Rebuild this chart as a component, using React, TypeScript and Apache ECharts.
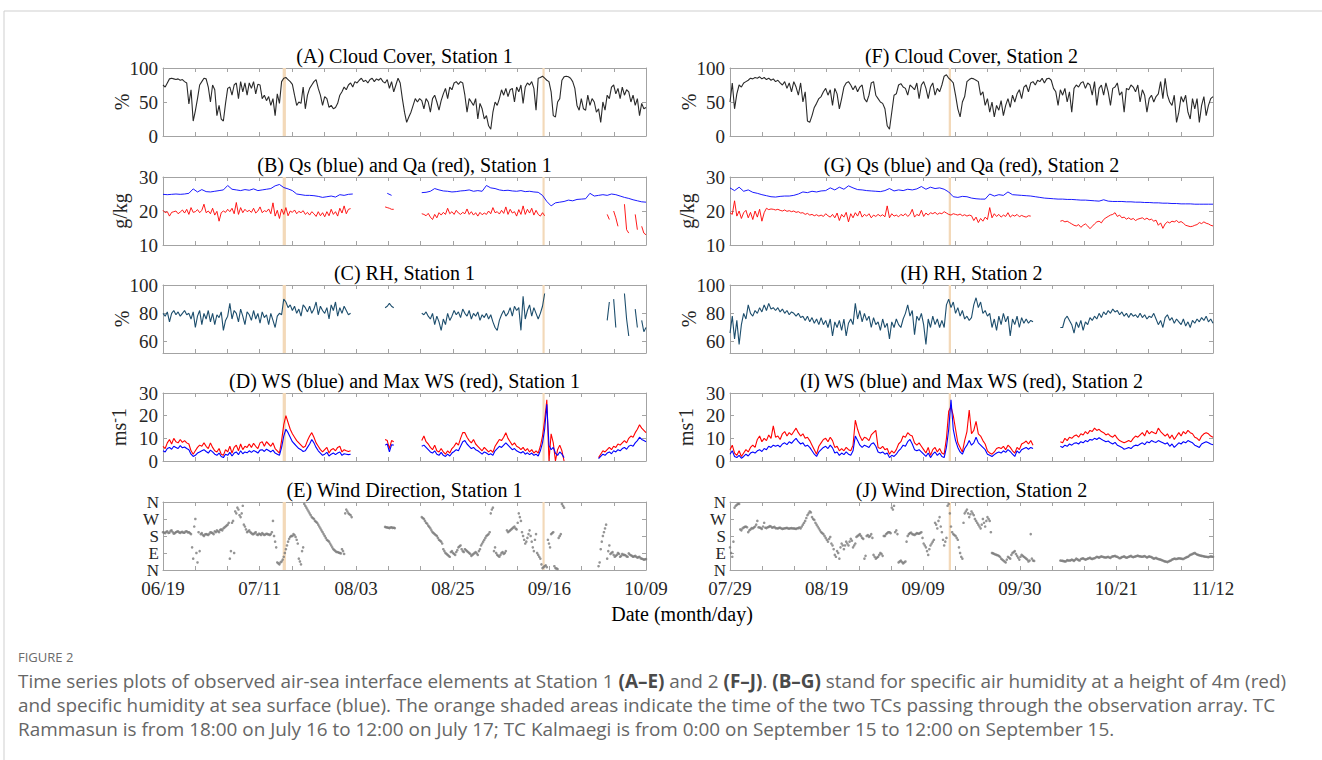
import React, { useEffect, useRef } from 'react';
import * as echarts from 'echarts';

const N = null;

// ---------- tick labels ----------
const LAB1 = ['06/19', '07/11', '08/03', '08/25', '09/16', '10/09'];
const LAB2 = ['07/29', '08/19', '09/09', '09/30', '10/21', '11/12'];
const SPAN1 = 112; // days 06/19 -> 10/09
const SPAN2 = 106; // days 07/29 -> 11/12
const DIR_LABELS = ['N', 'E', 'S', 'W', 'N'];

// TC passages (day offsets from first date)
const TC1 = [[27.75, 28.5], [88.0, 88.5]];
const TC2 = [[48.0, 48.5]];

// ---------- Station 1 (half-day steps unless noted) ----------
const cloud1 = [
  75,72,78,84,85,84,83,84,82,83, 80,78,47,68,22,37,55,75,80,85,
  84,72,50,75,68,30,45,25,22,48, 70,72,60,75,78,55,80,65,78,60,
  78,70,80,62,76,75,55,60,52,58, 45,55,30,62,48,80,85,86,83,80,
  76,60,45,50,48,72,40,60,70,75, 80,83,70,60,45,58,55,42,45,40,
  42,48,60,65,72,68,75,78,72,80, 78,82,85,80,82,78,83,85,80,84,
  82,85,80,78,83,70,80,65,75,85, 78,55,35,20,28,35,45,55,50,55,
  52,40,55,50,35,55,60,50,38,52, 62,70,55,72,68,78,80,76,80,78,
  60,35,55,50,45,55,25,48,40,25, 30,15,10,35,50,45,55,68,60,70,
  58,68,70,50,72,65,75,48,72,78, 75,80,70,38,85,86,88,85,82,80,
  65,30,28,50,55,82,87,88,87,85, 80,70,45,38,55,40,38,60,45,55,
  50,35,40,20,50,38,60,55,72,75, 62,70,55,72,60,68,65,50,60,45,
  55,30,48,40,42,
];
// daily step
const qs1 = [
  24.9,24.8,24.9,25.0,24.9,25.0,25.2,26.5,25.6,26.3,
  25.7,25.6,25.8,26.0,26.2,27.5,26.4,26.2,26.0,26.3,
  26.1,26.5,26.0,26.2,26.4,26.6,27.4,27.8,26.9,26.5,
  26.0,25.0,24.8,24.6,24.6,24.5,24.3,24.0,24.2,24.4,
  24.1,24.8,24.6,24.9,25.0,
  N,N,N,N,N,N,N, 25.2,24.6, N,N,N,N,N,N,
  25.4,25.5,25.8,26.6,26.2,25.9,25.8,25.6,25.7,25.9,
  26.0,26.2,25.8,26.0,25.8,27.5,26.8,26.6,26.2,26.0,
  26.1,25.9,25.8,26.0,25.7,25.8,25.6,25.5,24.6,22.8,
  21.5,22.4,22.6,22.8,23.2,23.0,23.4,23.5,23.6,25.2,
  24.4,24.6,24.8,24.6,25.0,24.8,24.4,24.0,23.7,23.3,
  23.0,22.7,22.6,
];
const qa1 = [
  20.2,19.5,19.8,18.5,19.6,19.8,20.0,19.2,19.7,20.3, 19.4,20.5,19.0,21.0,19.6,19.8,20.4,19.5,20.2,22.0,
  19.5,20.0,19.2,20.8,18.8,19.9,17.0,19.5,20.0,19.6, 20.5,19.8,20.8,19.2,22.5,19.0,21.0,19.5,20.5,19.8,
  20.2,19.6,20.8,19.4,20.0,21.2,19.5,20.1,19.8,20.6, 19.2,22.4,18.5,20.2,17.8,20.6,19.0,21.0,18.6,20.0,
  19.6,20.3,19.2,19.9,19.5,20.1,19.0,19.6,18.8,19.8, 19.2,18.4,19.8,18.6,19.5,18.3,19.8,18.6,20.5,19.0,
  19.8,18.5,20.8,19.4,21.5,19.2,20.5,20.7,
  N,N,N,N,N,N,N,N,N,N,N,N,N,N,N,
  21.2,21.0,20.8,20.5,20.5,
  N,N,N,N,N,N,N,N,N,N,N,N,
  19.2,19.0,18.6,19.3,18.2,17.5,19.0,18.0,19.5,18.8, 19.6,19.0,20.8,19.2,19.8,19.0,20.2,19.4,19.0,19.6,
  19.2,20.6,19.0,19.8,18.8,19.5,18.5,19.6,18.9,19.4, 19.0,20.0,19.2,21.0,19.5,19.8,19.1,20.2,19.3,21.2,
  19.0,20.5,19.4,19.8,18.5,20.4,19.0,21.5,19.0,20.5, 19.4,20.8,18.8,20.2,19.0,18.5,19.5,18.6,
  N,N,N,N,N,N,N,N,N,N,N,N,N,N,N,N,N,N,N,N,N,N,N,N,N,N,N,N,
  19.0,17.5,N,20.0,18.0,15.5,N,N,22.0,14.5,13.5,N,N,19.0,14.5,N,15.5,13.5,13.0,
];
const rh1 = [
  80,78,81,74,80,82,79,81,78,80, 82,79,80,76,81,70,78,82,72,80,
  76,82,74,80,72,79,77,81,68,75, 78,87,76,82,80,74,83,78,72,81,
  79,75,82,76,80,73,81,77,79,72, 80,75,70,78,80,79,90,88,84,86,
  82,85,80,83,78,86,84,81,85,80, 83,88,79,85,82,80,84,76,86,82,
  88,78,84,80,85,82,79,80,
  N,N,N,N,N,N,N,N,N,N,N,N,N,N,N,
  84,85,87,85,84,
  N,N,N,N,N,N,N,N,N,N,N,N,
  80,79,81,78,76,80,72,78,74,68, 76,72,80,75,78,82,79,81,77,83,
  80,78,82,76,80,78,81,75,79,77, 80,76,79,74,70,68,75,79,82,78,
  80,84,78,85,82,84,68,92,76,82, 86,78,84,80,76,80,85,94,
  N,N,N,N,N,N,N,N,N,N,N,N,N,N,N,N,N,N,N,N,N,N,N,N,N,N,N,N,
  75,88,N,90,70,N,N,N,94,76,64,N,N,83,70,N,75,67,70,
];
const ws1 = [
  4.5,4.0,5.5,6.0,5.2,6.5,6.0,5.5,6.8,5.8, 6.2,5.5,5.0,3.0,2.0,2.5,3.5,4.0,4.5,5.0,
  4.2,3.5,4.8,4.0,3.0,2.5,3.5,2.0,1.5,3.0, 2.5,3.8,2.2,3.5,4.0,2.8,4.5,3.2,4.0,3.6,
  4.5,3.8,4.6,4.2,3.5,4.8,5.0,4.2,5.2,4.6, 4.0,4.8,3.5,3.0,2.5,6.0,11.0,14.0,12.5,10.5,
  8.5,7.5,6.5,5.5,5.0,4.2,4.5,6.0,7.5,9.5, 8.0,6.0,4.5,3.5,2.5,3.0,3.8,2.2,3.0,3.5,
  2.8,3.5,4.0,2.5,3.2,3.0,2.8,3.0,
  N,N,N,N,N,N,N,N,N,N,N,N,N,N,N,
  7.0,7.5,4.0,7.2,7.0,
  N,N,N,N,N,N,N,N,N,N,N,N,
  6.5,7.0,6.0,5.0,4.0,3.5,4.5,3.0,2.5,3.8, 2.5,2.0,3.0,2.2,3.5,4.2,5.0,4.5,6.5,8.5,
  9.0,7.5,6.5,5.5,6.0,5.0,4.5,3.8,3.0,4.0, 3.5,2.8,3.2,2.5,4.5,5.5,6.5,6.0,7.0,8.0,
  7.0,6.0,5.0,5.5,4.5,4.0,3.5,4.2,3.0,3.6, 2.8,3.5,2.5,3.0,2.2,4.5,8.0,14.0,25.0,7.0,
  5.0,6.0,3.5,2.5,4.0,3.0,1.5,
  N,N,N,N,N,N,N,N,N,N,N,N,N,N,N,
  1.0,2.0,3.0,2.5,3.5,4.0,3.2,4.5,
  4.0,5.0,4.5,5.5,6.0,5.2,6.5,7.0,6.5,8.0, 9.0,10.5,9.5,9.0,8.5,
];
const maxws1 = [
  6.5,5.5,8.0,9.5,7.5,10.0,8.5,8.0,9.5,8.2, 9.0,8.0,7.5,4.5,3.0,4.5,6.0,7.0,6.5,8.0,
  6.5,5.5,8.0,6.0,4.5,4.0,5.5,3.0,2.5,5.0, 4.0,6.5,3.5,6.0,7.0,4.5,7.5,5.0,6.5,6.0,
  7.5,6.0,7.8,6.5,5.5,8.0,8.5,6.5,8.5,7.5, 6.5,8.0,5.5,4.5,3.5,9.0,16.0,20.0,17.0,14.0,
  12.0,10.5,9.0,8.0,7.0,6.0,6.5,9.0,11.0,12.5, 10.5,8.0,6.5,5.0,4.0,5.0,6.0,3.5,5.0,5.5,
  4.5,6.0,6.5,4.0,5.0,4.5,4.2,4.5,
  N,N,N,N,N,N,N,N,N,N,N,N,N,N,N,
  9.5,9.0,5.5,9.0,8.5,
  N,N,N,N,N,N,N,N,N,N,N,N,
  9.0,11.0,8.5,7.5,6.0,5.0,7.0,4.5,4.0,5.5, 4.0,3.0,4.5,3.5,5.5,6.5,8.0,7.0,10.0,12.5,
  12.5,10.5,9.0,8.0,9.5,7.5,6.5,5.5,4.5,6.0, 5.0,4.0,4.8,3.8,6.5,8.0,9.5,9.0,10.5,12.5,
  10.0,8.5,7.0,8.0,6.5,6.0,5.0,6.0,4.5,5.5, 4.0,5.0,3.5,4.5,3.5,6.5,11.0,18.0,27.0,0.0,
  12.0,8.0,0.0,5.0,7.0,4.5,0.0,
  N,N,N,N,N,N,N,N,N,N,N,N,N,N,N,
  1.5,3.0,4.5,4.0,5.0,6.0,5.0,6.5,
  6.0,7.5,7.0,8.0,9.0,8.0,10.0,11.0,10.5,12.5, 14.0,16.0,14.5,13.5,12.5,
];
// wind direction, degrees (two interleaved samplings, offset by a quarter day)
const wd1 = [
  200,195,205,198,210,192,200,205,196,202, 198,205,200,190,60,270,40,100,195,180,
  190,185,200,195,205,210,200,215,220,230, 240,60,250,90,300,320,280,340,230,200,
  210,195,190,200,185,190,195,185,192,188, 190,260,150,40,30,45,70,110,150,175,
  180,185,160,60,30,120,340,320,300,280, 270,255,240,220,200,180,160,150,130,110,
  100,95,90,110,85,320,300,290,
  N,N,N,N,N,N,N,N,N,N,N,N,N,N,N,
  228,225,222,226,224,
  N,N,N,N,N,N,N,N,N,N,N,N,
  280,270,250,235,220,200,190,180,160,150, 110,90,80,70,100,85,95,120,130,100,
  110,100,90,75,85,95,80,110,140,160, 180,190,300,330,120,80,70,90,85,100,
  200,210,220,230,215,300,260,180,140,170, 210,150,100,190,80,60,10,20,15,140,
  190,200,10,5,180,350,330,
  N,N,N,N,N,N,N,N,N,N,N,N,N,N,N,
  20,110,180,220,60,130,90,80,
  75,90,70,85,80,72,88,78,70,75, 65,70,60,55,58,
];
const wd1b = [
  198,202,196,207,200,195,203,199,201,197, 204,199,195,120,230,90,200,190,185,188,
  188,192,198,190,200,205,212,210,225,235, 250,100,260,310,330,290,300,240,215,205,
  200,190,195,188,192,185,190,188,190,185, 200,180,120,35,40,55,90,130,165,180,
  190,175,140,45,100,350,330,310,290,275, 260,250,230,210,190,170,155,140,120,105,
  95,92,88,100,300,310,295,280,
  N,N,N,N,N,N,N,N,N,N,N,N,N,N,N,
  226,224,225,223,222,
  N,N,N,N,N,N,N,N,N,N,N,N,
  275,260,245,228,210,195,185,170,155,140, 100,85,75,95,90,80,105,125,110,95,
  105,95,85,80,90,88,100,130,150,170, 185,200,320,100,90,75,80,95,90,210,
  205,215,225,220,250,280,200,160,150,190, 180,120,160,90,70,30,15,25,160,120,
  195,20,8,170,190,340,N,
  N,N,N,N,N,N,N,N,N,N,N,N,N,N,N,
  40,150,200,240,100,85,95,70,
  80,85,75,80,78,70,82,75,72,70, 68,62,58,56,55,
];

// ---------- Station 2 ----------
const cloud2 = [
  50,78,40,62,75,72,78,80,82,85, 84,86,85,87,84,86,83,85,82,84,
  80,82,78,75,80,70,78,65,80,72, 60,78,50,65,22,20,30,42,48,55,
  58,65,70,60,68,45,70,62,40,55, 72,78,80,75,68,74,65,72,75,55,
  50,60,78,80,60,55,50,48,40,15, 10,35,60,62,75,77,72,70,60,75,
  72,68,78,55,75,80,70,55,72,78, 60,70,65,75,88,90,85,82,78,60,
  40,28,50,58,80,83,85,84,82,80, 60,65,45,55,35,50,28,45,38,52,
  30,45,55,42,60,50,62,68,55,72, 75,65,78,80,75,82,80,85,78,84,
  85,82,70,65,45,68,60,70,50,65, 35,70,75,72,78,80,70,78,75,60,
  80,45,70,75,60,78,65,45,70,72, 78,60,65,35,70,68,75,72,65,75,
  50,68,60,35,55,60,50,58,62,80, 55,85,60,50,45,60,20,35,58,50,
  60,35,25,55,40,55,20,45,58,30, 45,55,58,
];
// daily step
const qs2 = [
  26.8,26.0,27.0,25.8,26.2,25.5,25.2,24.8,24.5,24.2,
  24.1,24.3,24.4,24.4,24.6,25.0,25.6,25.4,25.8,25.6,
  25.9,26.0,26.8,26.2,27.0,26.4,27.4,26.8,26.3,26.2,
  26.0,25.9,25.8,25.7,26.0,26.6,25.9,26.2,26.0,26.4,
  26.2,26.5,27.2,26.4,27.0,26.6,26.8,26.4,25.6,24.2,
  24.0,24.3,24.2,23.8,23.6,23.5,23.5,25.0,24.4,24.8,
  24.6,25.6,24.8,24.7,24.6,24.5,24.4,24.2,24.0,23.8,
  23.7,23.6,23.5,23.5,23.4,23.4,23.3,23.2,23.2,23.1,
  23.0,22.9,23.3,22.9,22.8,22.8,22.8,22.7,22.7,22.6,
  22.6,22.5,22.5,22.4,22.4,22.3,22.3,22.2,22.2,22.1,
  22.1,22.1,22.0,22.0,22.0,22.0,22.0,
];
const qa2 = [
  19.5,19.0,23.0,18.5,20.0,17.8,19.5,20.2,18.0,19.6, 17.5,20.0,18.2,20.5,17.0,19.5,20.8,20.4,20.6,20.5,
  20.3,20.5,20.2,20.0,20.3,19.9,20.1,19.8,20.0,19.6, 19.8,19.4,19.5,19.0,19.3,18.8,19.0,18.6,18.9,18.5,
  18.8,18.4,19.2,18.6,18.2,19.0,18.0,19.4,17.2,19.0, 18.2,19.6,16.8,19.2,18.0,19.5,18.5,20.0,18.2,19.0,
  18.5,19.2,18.0,18.8,18.4,19.0,18.5,18.9,18.3,21.5, 18.0,19.2,18.5,18.8,18.3,19.0,18.6,19.2,18.4,19.0,
  20.5,18.2,19.0,18.6,20.2,18.4,19.4,18.8,19.5,19.2, 19.6,19.0,19.4,19.2,19.8,19.4,19.0,18.8,19.2,19.0,
  18.8,19.1,18.6,18.9,18.5,18.8,18.6,17.2,18.2,16.6, 17.8,17.0,18.2,17.5,21.0,18.0,19.2,18.4,19.0,18.2,
  18.8,18.4,19.5,18.2,18.8,18.5,19.0,18.3,18.7,18.4, 18.2,18.6,18.5,
  N,N,N,N,N,N,N,N,N,N,N,N,
  17.0,17.2,16.8,17.0,16.6,
  16.2,15.8,15.6,16.0,15.2,15.8,16.2,15.6,14.8,15.5, 16.2,16.8,17.0,16.5,17.5,18.0,18.4,18.8,19.0,19.5,
  18.4,18.8,18.0,18.2,17.6,18.0,17.5,17.8,17.2,17.6, 17.8,18.0,17.5,17.9,17.4,17.6,17.0,17.3,15.8,16.5,
  14.9,16.2,16.8,16.5,17.0,16.8,17.2,16.6,16.9,16.4, 15.8,15.6,15.4,15.5,15.8,16.0,16.6,16.3,16.8,16.4,
  16.2,15.8,15.6,
];
const rh2 = [
  66,78,62,75,58,72,80,76,86,80, 78,82,80,84,81,86,82,87,83,84,
  82,84,81,83,80,82,79,81,80,78, 80,77,78,75,78,74,77,73,76,72,
  77,72,75,70,76,64,74,70,75,68, 76,64,73,76,72,87,76,82,74,80,
  75,78,70,77,72,74,68,76,70,73, 62,74,70,76,72,70,76,80,86,78,
  82,65,78,75,80,72,58,76,70,78, 72,76,70,75,70,86,90,84,88,80,
  84,78,82,76,78,75,77,86,91,84, 88,80,82,78,80,70,76,68,78,72,
  80,74,78,64,76,72,78,70,77,73, 76,73,75,74,
  N,N,N,N,N,N,N,N,N,N,N,
  70,70,76,78,75,
  72,66,74,70,75,68,74,72,77,75, 78,76,80,77,81,79,82,80,83,81,
  82,79,81,78,80,77,80,78,79,77, 80,77,79,76,78,77,80,76,72,75,
  70,77,79,75,77,73,76,74,72,76, 71,74,70,75,73,76,74,77,75,78,
  74,76,73,
];
const ws2 = [
  3.0,4.5,2.0,1.5,2.5,1.2,2.0,3.0,2.2,3.5, 4.0,3.5,4.5,5.0,4.2,5.5,5.0,6.5,6.0,7.0,
  6.5,7.0,6.2,7.5,8.0,7.2,8.5,7.8,9.0,10.0, 8.5,7.5,8.0,6.5,7.0,6.0,4.5,3.0,2.0,4.0,
  5.0,6.0,6.5,5.5,7.0,5.8,3.5,4.0,2.5,3.5, 2.8,4.0,3.0,2.5,4.5,11.0,9.0,7.0,6.0,7.0,
  6.5,6.0,7.5,8.0,6.5,4.0,3.5,4.0,3.0,3.5, 1.5,2.5,2.0,3.0,4.5,5.5,7.0,6.5,8.5,9.5,
  7.5,5.0,4.5,5.0,4.0,3.0,2.0,3.5,1.5,3.0, 4.0,2.5,3.5,2.0,1.5,6.0,14.0,27.0,14.0,9.0,
  6.0,4.0,3.0,5.5,7.0,9.0,7.0,8.0,10.5,8.0, 7.0,6.0,5.0,3.0,2.5,2.0,2.8,3.5,4.0,3.5,
  4.5,3.8,5.0,4.2,3.0,2.0,4.5,3.5,5.0,5.5, 6.0,5.2,6.0,5.5,
  N,N,N,N,N,N,N,N,N,N,N,
  6.5,6.0,7.0,6.5,7.5,
  7.0,7.8,8.0,7.5,8.5,8.0,9.0,8.5,9.5,9.2, 10.0,9.5,10.3,9.6,9.0,8.5,8.8,8.0,7.5,8.2,
  7.0,6.5,6.0,5.2,5.5,6.0,5.5,6.5,7.0,6.8, 7.5,8.0,7.2,8.5,8.0,9.0,8.5,8.2,9.0,8.5,
  8.0,7.5,8.0,6.5,7.5,6.0,7.0,8.0,7.5,8.5, 8.0,9.0,8.5,8.0,7.0,6.5,6.0,7.5,8.0,8.5,
  8.0,7.5,7.2,
];
const maxws2 = [
  5.0,7.0,3.5,2.5,4.5,2.0,3.5,5.0,4.0,6.0, 7.0,6.0,9.5,11.0,8.5,10.0,9.0,11.5,10.0,15.5,
  10.5,11.0,9.5,12.0,13.0,11.0,12.5,11.5,13.0,14.5, 12.5,11.0,12.0,10.0,10.5,9.0,7.0,5.0,3.0,6.5,
  8.0,9.5,10.0,8.5,10.5,9.0,6.0,6.5,4.5,5.5, 4.5,6.0,5.0,4.5,7.0,18.0,14.0,11.0,9.0,10.5,
  10.0,9.0,11.5,12.5,13.5,6.0,5.5,6.5,5.0,5.5, 3.0,4.5,3.5,5.0,7.5,8.5,11.0,10.5,12.5,11.5,
  11.0,8.0,7.0,8.0,6.5,5.0,3.5,6.0,2.5,5.0, 6.0,4.0,5.5,3.5,3.0,10.0,22.0,24.0,20.0,14.0,
  8.0,6.0,4.0,9.0,13.0,22.5,12.0,13.5,17.5,12.0, 11.0,9.0,7.5,4.5,3.5,3.0,4.0,5.5,6.0,5.5,
  6.5,5.0,7.0,6.0,4.5,3.5,6.0,5.0,7.5,8.0, 8.8,7.5,9.0,7.0,
  N,N,N,N,N,N,N,N,N,N,N,
  8.5,8.0,10.0,9.0,10.5,
  10.0,11.0,11.5,10.5,12.0,11.5,13.0,12.0,13.5,13.0, 14.5,13.5,14.0,13.0,12.5,11.5,12.0,11.0,10.5,11.5,
  10.0,9.0,8.5,8.0,8.5,9.0,8.5,10.0,11.0,10.5, 11.5,12.5,11.0,13.5,12.0,13.0,12.5,12.0,14.5,13.0,
  12.0,11.0,12.0,10.0,11.5,9.5,11.0,12.5,11.0,13.0, 12.0,13.5,12.5,12.0,10.5,10.0,9.0,11.0,12.0,12.5,
  12.0,11.0,10.5,
];
const wd2 = [
  120,70,330,345,350,210,225,230,200,215, 220,230,260,225,218,250,222,228,230,226,
  222,220,224,218,221,223,219,222,220,218, 222,220,240,260,290,310,280,265,240,220,
  200,190,170,150,175,130,80,100,60,140, 110,150,130,165,120,140,180,190,170,60,
  180,175,190,80,60,70,90,75,180,195, 200,330,340,210,40,50,35,45,180,195,
  190,185,195,192,200,140,120,80,130,150, 250,220,280,200,130,170,350,230,190,180,
  160,90,60,300,320,280,310,290,260,240, 220,270,230,280,260,90,85,80,75,60,
  50,40,70,60,90,100,75,55,80,70, 60,45,190,50,
  N,N,N,N,N,N,N,N,N,N,N,
  50,48,45,52,50,
  55,48,60,52,58,62,55,60,65,58, 62,70,65,72,68,66,70,64,72,75,
  70,62,68,72,65,70,75,68,72,76, 72,70,74,66,72,68,60,64,58,55,
  50,45,42,48,55,60,58,62,60,58, 65,70,80,85,90,82,78,75,72,70,
  68,72,70,
];
const wd2b = [
  90,150,340,350,215,220,228,226,210,222, 225,240,226,222,230,224,226,232,224,228,
  221,223,220,219,222,220,221,220,219,221, 225,230,250,275,300,305,270,250,230,210,
  195,180,160,165,140,110,70,90,120,130, 130,140,150,155,130,175,185,180,165,75,
  185,180,170,70,65,80,85,180,190,200, 195,320,200,190,45,42,40,150,190,198,
  188,190,193,196,170,130,100,110,140,160, 240,260,230,160,150,340,300,200,185,170,
  120,70,250,310,300,295,300,270,250,230, 240,250,260,270,200,88,82,78,70,55,
  45,55,65,80,95,85,65,70,75,65, 55,50,60,48,
  N,N,N,N,N,N,N,N,N,N,N,
  49,47,46,50,51,
  52,54,56,50,60,58,57,62,60,61, 66,68,69,70,67,68,66,70,73,71,
  66,64,70,68,67,72,70,70,74,73, 71,72,70,69,70,64,62,60,56,52,
  47,44,45,50,57,59,60,61,59,62, 68,75,82,88,86,80,76,74,71,69,
  70,71,69,
];

const TITLES1 = [
  '(A) Cloud Cover, Station 1',
  '(B) Qs (blue) and Qa (red), Station 1',
  '(C) RH, Station 1',
  '(D) WS (blue) and Max WS (red), Station 1',
  '(E) Wind Direction, Station 1',
];
const TITLES2 = [
  '(F) Cloud Cover, Station 2',
  '(G) Qs (blue) and Qa (red), Station 2',
  '(H) RH, Station 2',
  '(I) WS (blue) and Max WS (red), Station 2',
  '(J) Wind Direction, Station 2',
];
const CAPTION = [
  'Time series plots of observed air-sea interface elements at Station 1 {b|(A–E)} and 2 {b|(F–J)}. {b|(B–G)} stand for specific air humidity at a height of 4m (red)',
  'and specific humidity at sea surface (blue). The orange shaded areas indicate the time of the two TCs passing through the observation array. TC',
  'Rammasun is from 18:00 on July 16 to 12:00 on July 17; TC Kalmaegi is from 0:00 on September 15 to 12:00 on September 15.',
];

// ---------- styling / layout ----------
const SERIF = 'Liberation Serif';
const SANS = 'Open Sans';
const AXC = '#a3a3a3';
const TXT = '#262626';
const BAND = '#f3d9b9';
const COLX = [163, 730];
const PW = 483;
const ROWY = [68, 177, 285, 393, 502];
const PH = 68;
const CAP_SIZE = 18.9;

const ROWS = [
  { min: 0, max: 100, ticks: [0, 50, 100], name: '%', gap: 31 },
  { min: 10, max: 30, ticks: [10, 20, 30], name: 'g/kg', gap: 33 },
  { min: 52, max: 100, ticks: [60, 80, 100], name: '%', gap: 31 },
  { min: 0, max: 30, ticks: [0, 10, 20, 30], name: '{a|ms}{s|-}{a|1}', gap: 33 },
  { min: 0, max: 360, ticks: [0, 90, 180, 270, 360], name: '', gap: 30 },
];

const xy = (vals: (number | null)[], step: number, offset = 0) => vals.map((v, i) => [i * step + offset, v]);

function buildOption() {
  const grid: any[] = [];
  const xAxis: any[] = [];
  const yAxis: any[] = [];
  const series: any[] = [];
  const graphic: any[] = [];

  const stations = [
    { span: SPAN1, labels: LAB1, tc: TC1, cloud: cloud1, qs: qs1, qa: qa1, rh: rh1, ws: ws1, mws: maxws1, wd: wd1, wdb: wd1b, titles: TITLES1 },
    { span: SPAN2, labels: LAB2, tc: TC2, cloud: cloud2, qs: qs2, qa: qa2, rh: rh2, ws: ws2, mws: maxws2, wd: wd2, wdb: wd2b, titles: TITLES2 },
  ];

  stations.forEach((st, c) => {
    const tickVals = Array.from({ length: 16 }, (_, k) => (k * st.span) / 15);
    const labVals = Array.from({ length: 6 }, (_, k) => (k * st.span) / 5);
    for (let r = 0; r < 5; r++) {
      const g = c * 5 + r;
      grid.push({ left: COLX[c], top: ROWY[r], width: PW, height: PH, outerBoundsMode: 'none', containLabel: false });
      const xBase = {
        type: 'value', gridIndex: g, min: 0, max: st.span,
        splitLine: { show: false },
        axisLine: { show: true, onZero: false, lineStyle: { color: AXC, width: 1 } },
        axisTick: { show: true, inside: true, length: 4, customValues: tickVals, lineStyle: { color: AXC } },
      };
      xAxis.push({
        ...xBase, position: 'bottom',
        axisLabel: {
          show: r === 4, customValues: labVals, margin: 10, showMinLabel: true, showMaxLabel: true,
          fontFamily: SERIF, fontSize: 19, color: TXT, lineHeight: 17,
          formatter: (v: number) => st.labels[Math.round(v / (st.span / 5))],
        },
      });
      xAxis.push({ ...xBase, position: 'top', axisLabel: { show: false } });

      const row = ROWS[r];
      const yBase = {
        type: 'value', gridIndex: g, min: row.min, max: row.max,
        splitLine: { show: false },
        axisLine: { show: true, onZero: false, lineStyle: { color: AXC, width: 1 } },
        axisTick: { show: true, inside: true, length: 4, customValues: row.ticks, lineStyle: { color: AXC } },
      };
      yAxis.push({
        ...yBase, position: 'left',
        name: row.name, nameLocation: 'middle', nameRotate: 90, nameGap: row.gap, nameMoveOverlap: false,
        nameTextStyle: {
          fontFamily: SERIF, fontSize: 20, color: TXT,
          rich: {
            a: { fontFamily: SERIF, fontSize: 20, color: TXT },
            s: { fontFamily: SERIF, fontSize: 14, color: TXT, padding: [0, 0, 9, 0] },
          },
        },
        axisLabel: {
          show: true, customValues: row.ticks, margin: r === 4 ? 4 : 5,
          showMinLabel: true, showMaxLabel: true, hideOverlap: false,
          fontFamily: SERIF, fontSize: r === 4 ? 17 : 19, color: TXT,
          lineHeight: r === 4 ? 14 : 19,
          formatter: (v: number) => (r === 4 ? DIR_LABELS[Math.round(v / 90)] : String(v)),
        },
      });
      yAxis.push({ ...yBase, position: 'right', axisLabel: { show: false } });

      // TC shading
      series.push({
        type: 'line', xAxisIndex: 2 * g, yAxisIndex: 2 * g, data: [], z: 1, silent: true,
        markArea: {
          silent: true, itemStyle: { color: BAND, opacity: 1 },
          data: st.tc.map(([a, b]) => [{ xAxis: a }, { xAxis: b }]),
        },
      });
      const line = (data: any[], color: string, width: number, z: number) => ({
        type: 'line', xAxisIndex: 2 * g, yAxisIndex: 2 * g, data, showSymbol: false, symbol: 'none',
        connectNulls: false, silent: true, z, lineStyle: { color, width }, itemStyle: { color },
      });
      if (r === 0) series.push(line(xy(st.cloud, 0.5), '#2a2a2a', 1.1, 3));
      if (r === 1) {
        series.push(line(xy(st.qs, 1), '#0000ff', 0.9, 3));
        series.push(line(xy(st.qa, 0.5), '#ff0000', 0.9, 3));
      }
      if (r === 2) series.push(line(xy(st.rh, 0.5), '#1d4e6d', 1.1, 3));
      if (r === 3) {
        series.push(line(xy(st.mws, 0.5), '#ff0000', 1.1, 3));
        series.push(line(xy(st.ws, 0.5), '#0000ff', 1.1, 4));
      }
      if (r === 4) {
        const scat = (data: any[]) => ({
          type: 'scatter', xAxisIndex: 2 * g, yAxisIndex: 2 * g, data,
          symbolSize: 2.6, silent: true, z: 3, itemStyle: { color: '#7a7a7a' },
        });
        series.push(scat(xy(st.wd, 0.5)));
        series.push(scat(xy(st.wdb, 0.5, 0.25)));
      }

      graphic.push({
        type: 'text', x: COLX[c] + PW / 2, y: ROWY[r] - 12, silent: true,
        style: { text: st.titles[r], fontFamily: SERIF, fontSize: 20, fill: '#000', align: 'center', verticalAlign: 'middle' },
      });
    }
  });

  graphic.push({
    type: 'rect', silent: true, z: -10,
    shape: { x: 4, y: 11, width: 1500, height: 900 },
    style: { fill: 'none', stroke: '#cfcfcf', lineWidth: 1 },
  });
  graphic.push({
    type: 'text', x: 682, y: 614, silent: true,
    style: { text: 'Date (month/day)', fontFamily: SERIF, fontSize: 20, fill: '#000', align: 'center', verticalAlign: 'middle' },
  });
  graphic.push({
    type: 'text', x: 18, y: 657, silent: true,
    style: { text: 'FIGURE 2', fontFamily: SANS, fontSize: 13, fill: '#6b6b6b', align: 'left', verticalAlign: 'middle' },
  });
  CAPTION.forEach((t, k) => {
    graphic.push({
      type: 'text', x: 18, y: 681 + k * 24, silent: true,
      style: {
        text: t, fontFamily: SANS, fontSize: CAP_SIZE, fill: '#666666', align: 'left', verticalAlign: 'middle',
        rich: { b: { fontFamily: SANS, fontSize: CAP_SIZE, fontWeight: 'bold', fill: '#4a4a4a' } },
      },
    });
  });

  return { animation: false, backgroundColor: '#ffffff', grid, xAxis, yAxis, series, graphic };
}

export default function App() {
  const ref = useRef<HTMLDivElement>(null);
  useEffect(() => {
    document.body.style.margin = '0';
    const chart = echarts.init(ref.current as HTMLDivElement, null, { renderer: 'svg' });
    chart.setOption(buildOption() as any);
    return () => chart.dispose();
  }, []);
  return <div ref={ref} style={{ width: 1322, height: 760 }} />;
}
